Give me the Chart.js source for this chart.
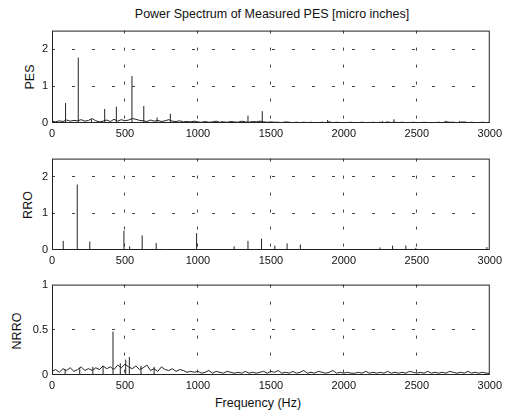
<!DOCTYPE html>
<html>
<head>
<meta charset="utf-8">
<script src="https://cdn.jsdelivr.net/npm/chart.js@4.4.0/dist/chart.umd.min.js"></script>
<style>
body { margin: 0; background: #fff; }
#wrap { position: relative; width: 506px; height: 418px; font-family: "Liberation Sans", Arial, sans-serif; color: #111; }
canvas { position: absolute; left: 0; }
.lbl { position: absolute; font-size: 12.5px; white-space: nowrap; transform: translate(-50%, -50%); }
.ylab { transform: translate(-50%, -50%) rotate(-90deg); }
</style>
</head>
<body>
<div id="wrap">
    <div class="lbl" style="left:272px; top:14px;">Power Spectrum of Measured PES [micro inches]</div>
    <div class="lbl ylab" style="left:30px; top:77px;">PES</div>
    <div class="lbl ylab" style="left:28px; top:205px;">RRO</div>
    <div class="lbl ylab" style="left:17px; top:331px;">NRRO</div>
    <div class="lbl" style="left:258px; top:403px;">Frequency (Hz)</div>
    <canvas id="pes-chart"></canvas>
    <canvas id="rro-chart"></canvas>
    <canvas id="nrro-chart"></canvas>
</div>
<script>
// Tick labels
const freqTicks = [0, 500, 1000, 1500, 2000, 2500, 3000];
const pesTicks = [0, 1, 2];
const rroTicks = [0, 1, 2];
const nrroTicks = [0, 0.5, 1];

// Noise floor, one value every 25 Hz from 0 to 3000 Hz
const noiseStep = 25;
const pesNoise = [
    0.05, 0.03, 0.06, 0.04, 0.08, 0.05, 0.07, 0.06, 0.09, 0.05,
    0.07, 0.12, 0.06, 0.03, 0.05, 0.08, 0.04, 0.10, 0.05, 0.09,
    0.06, 0.08, 0.12, 0.10, 0.07, 0.06, 0.04, 0.08, 0.05, 0.07,
    0.04, 0.06, 0.09, 0.05, 0.04, 0.06, 0.03, 0.04, 0.03, 0.05,
    0.03, 0.02, 0.04, 0.02, 0.03, 0.05, 0.02, 0.03, 0.02, 0.04,
    0.03, 0.02, 0.05, 0.03, 0.02, 0.04, 0.03, 0.05, 0.03, 0.02,
    0.03, 0.02, 0.02, 0.01, 0.03, 0.02, 0.01, 0.02, 0.01, 0.02,
    0.01, 0.02, 0.01, 0.01, 0.02, 0.01, 0.03, 0.01, 0.02, 0.01,
    0.01, 0.01, 0.02, 0.01, 0.01, 0.02, 0.01, 0.01, 0.02, 0.01,
    0.02, 0.01, 0.03, 0.01, 0.02, 0.01, 0.02, 0.01, 0.01, 0.02,
    0.01, 0.01, 0.02, 0.01, 0.01, 0.01, 0.02, 0.01, 0.03, 0.02,
    0.02, 0.01, 0.02, 0.03, 0.01, 0.02, 0.01, 0.01, 0.02, 0.01,
    0.02
];
const nrroNoise = [
    0.04, 0.06, 0.03, 0.07, 0.05, 0.08, 0.04, 0.06, 0.09, 0.05,
    0.07, 0.05, 0.08, 0.06, 0.10, 0.07, 0.09, 0.06, 0.11, 0.08,
    0.12, 0.09, 0.07, 0.10, 0.06, 0.08, 0.11, 0.05, 0.07, 0.04,
    0.09, 0.06, 0.05, 0.07, 0.04, 0.06, 0.05, 0.03, 0.04, 0.03,
    0.04, 0.02, 0.03, 0.05, 0.02, 0.04, 0.03, 0.02, 0.04, 0.03,
    0.02, 0.03, 0.02, 0.04, 0.02, 0.03, 0.02, 0.03, 0.04, 0.02,
    0.04, 0.03, 0.05, 0.02, 0.03, 0.02, 0.04, 0.02, 0.03, 0.05,
    0.02, 0.03, 0.02, 0.04, 0.03, 0.02, 0.03, 0.05, 0.02, 0.03,
    0.02, 0.03, 0.02, 0.02, 0.03, 0.02, 0.04, 0.02, 0.03, 0.02,
    0.03, 0.02, 0.04, 0.02, 0.03, 0.02, 0.03, 0.02, 0.04, 0.03,
    0.02, 0.03, 0.02, 0.04, 0.02, 0.03, 0.02, 0.03, 0.02, 0.04,
    0.03, 0.02, 0.03, 0.02, 0.04, 0.02, 0.03, 0.02, 0.03, 0.02,
    0.02
];
const rroNoise = [];

// Spectral lines (Hz, amplitude)
const pesPeakFreq = [93, 180, 270, 361, 441, 548, 629, 720, 811, 1166, 1343, 1441, 1889, 2264, 2343, 2700, 2793];
const pesPeakAmp  = [0.54, 1.77, 0.10, 0.38, 0.44, 1.27, 0.46, 0.15, 0.25, 0.05, 0.20, 0.32, 0.08, 0.05, 0.10, 0.06, 0.05];

const rroPeakFreq = [77, 173, 259, 493, 532, 618, 714, 750, 991, 1248, 1343, 1436, 1527, 1611, 1702, 2248, 2334, 2425, 2493, 2980];
const rroPeakAmp  = [0.25, 1.79, 0.23, 0.53, 0.10, 0.40, 0.19, 0.03, 0.46, 0.10, 0.25, 0.31, 0.12, 0.18, 0.15, 0.07, 0.12, 0.12, 0.06, 0.08];

const nrroPeakFreq = [90, 190, 280, 350, 418, 468, 505, 530, 610, 700];
const nrroPeakAmp  = [0.06, 0.08, 0.09, 0.10, 0.48, 0.13, 0.17, 0.20, 0.10, 0.09];

const inkColor = '#222';
const tickFont = { family: 'Liberation Sans', size: 11 };

// draws the axes box (top and right edges too, like matlab)
const boxPlugin = {
    id: 'box',
    afterDatasetsDraw(chart) {
        const a = chart.chartArea;
        const ctx = chart.ctx;
        ctx.save();
        ctx.strokeStyle = inkColor;
        ctx.lineWidth = 1;
        ctx.strokeRect(a.left + 0.5, a.top + 0.5, a.right - a.left - 1, a.bottom - a.top - 1);
        ctx.restore();
    }
};

function noisePoints(values) {
    return values.map((v, i) => ({ x: i * noiseStep, y: v }));
}

function stemPoints(freqs, amps) {
    const pts = [];
    freqs.forEach((f, i) => {
        pts.push({ x: f, y: 0 });
        pts.push({ x: f, y: amps[i] });
        pts.push({ x: f, y: null });
    });
    return pts;
}

function createSpectrum(canvasId, plotTop, plotBottom, yMax, yTicks, noise, peakFreq, peakAmp) {
    const padTop = 10;
    const xAxisHeight = 22;
    const canvas = document.getElementById(canvasId);
    canvas.width = 506;
    canvas.height = padTop + (plotBottom - plotTop) + xAxisHeight;
    canvas.style.top = (plotTop - padTop) + 'px';

    const edgeHidden = (min, max) => c =>
        (c.tick && (c.tick.value === min || c.tick.value === max)) ? 'rgba(0,0,0,0)' : '#444';

    return new Chart(canvas.getContext('2d'), {
        type: 'line',
        data: {
            datasets: [{
                data: noisePoints(noise),
                borderColor: inkColor,
                borderWidth: 1,
                pointRadius: 0,
                tension: 0
            }, {
                data: stemPoints(peakFreq, peakAmp),
                borderColor: inkColor,
                borderWidth: 1,
                pointRadius: 0,
                spanGaps: false,
                tension: 0
            }]
        },
        options: {
            responsive: false,
            animation: false,
            layout: { padding: { top: padTop, right: 14, left: 0, bottom: 0 } },
            plugins: { legend: { display: false }, tooltip: { enabled: false } },
            scales: {
                x: {
                    type: 'linear',
                    min: 0,
                    max: 3000,
                    afterBuildTicks: s => { s.ticks = freqTicks.map(v => ({ value: v })); },
                    afterFit: s => { s.height = xAxisHeight; },
                    ticks: { color: '#111', font: tickFont, padding: 4, maxRotation: 0, callback: v => String(v) },
                    grid: { color: edgeHidden(0, 3000), drawTicks: false, lineWidth: 1 },
                    border: { display: false, dash: [3, 14] }
                },
                y: {
                    type: 'linear',
                    min: 0,
                    max: yMax,
                    afterBuildTicks: s => { s.ticks = yTicks.map(v => ({ value: v })); },
                    afterFit: s => { s.width = 52; },
                    ticks: { color: '#111', font: tickFont, padding: 4, callback: v => String(v) },
                    grid: { color: edgeHidden(0, yMax), drawTicks: false, lineWidth: 1 },
                    border: { display: false, dash: [3, 17] }
                }
            }
        },
        plugins: [boxPlugin]
    });
}

createSpectrum('pes-chart', 30, 123, 2.5, pesTicks, pesNoise, pesPeakFreq, pesPeakAmp);
createSpectrum('rro-chart', 158, 250, 2.5, rroTicks, rroNoise, rroPeakFreq, rroPeakAmp);
createSpectrum('nrro-chart', 284, 375, 1, nrroTicks, nrroNoise, nrroPeakFreq, nrroPeakAmp);
</script>
</body>
</html>
